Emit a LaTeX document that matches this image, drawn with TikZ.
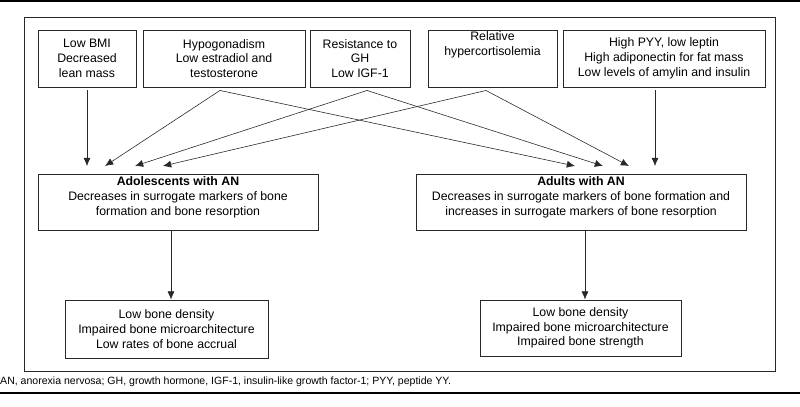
\documentclass[tikz,border=0pt]{standalone}
\usepackage{fontspec}
\setmainfont{Liberation Sans}
\usetikzlibrary{positioning, arrows.meta}
\definecolor{BoxStroke}{RGB}{40, 40, 40}
\colorlet{ArrowColor}{BoxStroke}
\tikzset{
    % Factor / outcome box
    factorbox/.style={
        draw=BoxStroke,
        rectangle,
        align=center,
        inner sep=1pt,
        font=\fontsize{10.5}{12.6}\selectfont,
        line width=0.8pt
    },
    % Arrow style
    stdarrow/.style={
        -{Latex[length=7pt,width=6pt]},
        line width=0.5pt,
        color=ArrowColor
    }
}
\begin{document}
\begin{tikzpicture}[x=0.03cm, y=-0.03cm]

    % Canvas and rules
    \useasboundingbox (0,0) rectangle (800,406);
    \draw[line width=1pt] (0,1) coordinate (rtl) -- (800,1) coordinate (rtr);
    \draw[line width=1pt] (0,393) coordinate (rbl) -- (800,393) coordinate (rbr);
    \node[draw=BoxStroke, line width=0.8pt, minimum width=751*0.03cm, minimum height=354*0.03cm] (frame) at (399.5,194) {};

    % Causes
    \node[factorbox, minimum width=98*0.03cm, minimum height=57*0.03cm] (bmi) at (87,58.5) {Low BMI\\Decreased\\lean mass};
    \node[factorbox, minimum width=162*0.03cm, minimum height=57*0.03cm] (hypo) at (224,58.5) {Hypogonadism\\Low estradiol and\\testosterone};
    \node[factorbox, minimum width=100*0.03cm, minimum height=57*0.03cm] (gh) at (360,58.5) {Resistance to\\GH\\Low IGF-1};
    \node[factorbox, minimum width=129*0.03cm, minimum height=57*0.03cm] (cort) at (492.5,58.5) {Relative\\hypercortisolemia\\[12.6pt]};
    \node[factorbox, minimum width=202*0.03cm, minimum height=57*0.03cm] (pyy) at (664,58.5) {High PYY, low leptin\\High adiponectin for fat mass\\Low levels of amylin and insulin};

    % Groups
    \node[factorbox, minimum width=280*0.03cm, minimum height=56*0.03cm] (adol) at (178,202) {\textbf{Adolescents with AN}\\Decreases in surrogate markers of bone\\formation and bone resorption\\[-2pt]};
    \node[factorbox, minimum width=330*0.03cm, minimum height=56*0.03cm] (adult) at (581,202) {\textbf{Adults with AN}\\Decreases in surrogate markers of bone formation and\\increases in surrogate markers of bone resorption\\[-2pt]};

    % Outcomes
    \node[factorbox, minimum width=203*0.03cm, minimum height=58*0.03cm] (outl) at (166.5,329) {Low bone density\\Impaired bone microarchitecture\\Low rates of bone accrual};
    \node[factorbox, minimum width=201*0.03cm, minimum height=56*0.03cm] (outr) at (580.5,328) {Low bone density\\Impaired bone microarchitecture\\Impaired bone strength};

    % Arrow ends above the group boxes
    \foreach \n/\x in {al1/87, al2/105, al3/135, al4/163, ar1/575, ar2/603, ar3/629, ar4/655} {
        \coordinate (\n) at (\x,166);
    }

    % Arrows
    \draw[stdarrow] (bmi.south) ++(0,3) -- (al1);
    \draw[stdarrow] (hypo.south) ++(-4,3) coordinate (hs) -- (al2);
    \draw[stdarrow] (hs) -- (ar1);
    \draw[stdarrow] (gh.south) ++(7,3) coordinate (gs) -- (al3);
    \draw[stdarrow] (gs) -- (ar2);
    \draw[stdarrow] (cort.south) ++(-6.5,3) coordinate (cs) -- (al4);
    \draw[stdarrow] (cs) -- (ar3);
    \draw[stdarrow] (pyy.south) ++(-9,3) -- (ar4);
    \draw[stdarrow] (adol.south -| 171,0) -- (outl.north -| 171,0);
    \draw[stdarrow] (adult.south -| 585,0) -- (outr.north -| 585,0);

    % Caption
    \node[anchor=west, inner sep=0pt, font=\fontsize{9}{11}\selectfont] (caption) at (0,382) {AN, anorexia nervosa; GH, growth hormone, IGF-1, insulin-like growth factor-1; PYY, peptide YY.};

\end{tikzpicture}
\end{document}
